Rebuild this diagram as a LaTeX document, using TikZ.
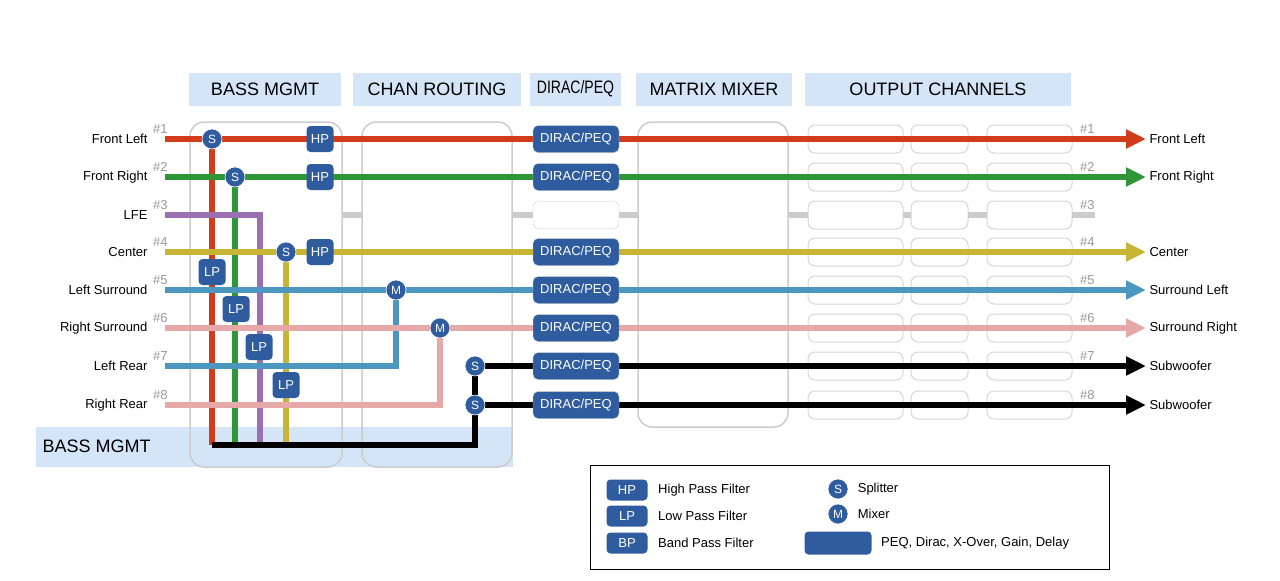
\documentclass[tikz,border=0pt]{standalone}
\usepackage{fontspec}
\usepackage{graphicx}
\setmainfont{Liberation Sans}
\usetikzlibrary{arrows.meta,positioning}
\definecolor{cRed}{HTML}{D33C1B}
\definecolor{cGreen}{HTML}{2E9637}
\definecolor{cPurple}{HTML}{9A70B0}
\definecolor{cYellow}{HTML}{C9B535}
\definecolor{cBlue}{HTML}{4C97BF}
\definecolor{cPink}{HTML}{E6A9A7}
\definecolor{cNode}{HTML}{2F5C9F}
\definecolor{cHead}{HTML}{D5E5F8}
\definecolor{cBox}{HTML}{CCCCCC}
\tikzset{
  sig/.style={line width=6pt},
  sigarrow/.style={sig, -{Triangle[length=20pt,width=18pt]}},
  circ/.style={circle, fill=cNode, draw=white, line width=0.6pt, inner sep=0pt, minimum size=20pt, text=white, font=\fontsize{12}{12}\selectfont},
  filt/.style={rectangle, rounded corners=4pt, fill=cNode, inner sep=0pt, minimum width=27pt, minimum height=26pt, text=white, font=\fontsize{13}{13}\selectfont},
  peq/.style={rectangle, rounded corners=5pt, fill=cNode, draw=cBox, inner sep=0pt, minimum width=86pt, minimum height=27pt, text=white, font=\fontsize{13}{13}\selectfont},
  head/.style={rectangle, fill=cHead, inner sep=0pt, minimum height=33pt, font=\fontsize{18}{18}\selectfont},
  stage/.style={draw=cBox, line width=1.5pt, rounded corners=14pt},
  slot/.style={draw=cBox!80, line width=1pt, rounded corners=7pt},
  lbl/.style={font=\fontsize{13}{13}\selectfont},
  num/.style={font=\fontsize{13}{13}\selectfont, text=black!40},
}
\begin{document}
\begin{tikzpicture}[x=1pt,y=-1pt]
  \useasboundingbox (0,0) rectangle (1280,581);

  % headers
  \node[head, minimum width=152pt] (hBass) at (265,89) {BASS MGMT};
  \node[head, minimum width=168pt] (hChan) at (437,89) {CHAN ROUTING};
  \node[head, minimum width=91pt] (hDirac) at (575.5,89) {\scalebox{0.78}[1]{DIRAC/PEQ}};
  \node[head, minimum width=156pt] (hMatrix) at (714,89) {MATRIX MIXER};
  \node[head, minimum width=266pt] (hOut) at (938,89) {OUTPUT CHANNELS};

  % bottom band
  \fill[cHead] (36,427) rectangle (513,467);
  \node[anchor=west, font=\fontsize{18}{18}\selectfont] (bandLbl) at (39,446) {BASS MGMT};

  % stage frames
  \draw[stage] (190,122) rectangle (342,467);
  \draw[stage] (362,122) rectangle (512,467);
  \draw[stage] (638,122) rectangle (788,427);
  \foreach \y in {139,177,215,252,290,328,366,405} {
    \draw[slot] (808,\y-14) rectangle (903,\y+14);
    \draw[slot] (911,\y-14) rectangle (968,\y+14);
    \draw[slot] (987,\y-14) rectangle (1072,\y+14);
  }

  % unused channel #3
  \foreach \a/\b in {342/362,512/533,619/638,788/808,903/911,968/987,1072/1095}
    \draw[cBox, line width=6pt] (\a,215) -- (\b,215);

  % inputs, outputs and labels
  \foreach \i/\y/\inl/\outl in {1/139/Front Left/Front Left, 2/177/Front Right/Front Right,
      3/215/LFE/, 4/252/Center/Center, 5/290/Left Surround/Surround Left,
      6/328/Right Surround/Surround Right, 7/366/Left Rear/Subwoofer, 8/405/Right Rear/Subwoofer} {
    \coordinate (in\i) at (165,\y);
    \coordinate (out\i) at (1146,\y);
    \node[lbl, anchor=east] (inLbl\i) at (151,\y) {\inl};
    \node[lbl, anchor=west] (outLbl\i) at (1146,\y) {\outl};
    \node[num, anchor=south west, inner sep=0pt] (inNum\i) at (153,\y-5) {\#\i};
    \node[num, anchor=south west, inner sep=0pt] (outNum\i) at (1080,\y-5) {\#\i};
  }

  % junction points
  \coordinate (s1) at (212,139);
  \coordinate (s2) at (235,177);
  \coordinate (s4) at (286,252);
  \coordinate (m5) at (396,290);
  \coordinate (m6) at (440,328);
  \coordinate (s7) at (475,366);
  \coordinate (s8) at (475,405);
  \coordinate (j3) at (260,215);
  \coordinate (b1) at (212,445);
  \coordinate (b2) at (235,445);
  \coordinate (b3) at (260,445);
  \coordinate (b4) at (286,445);
  \coordinate (bEnd) at (475,445);
  \coordinate (k7) at (396,366);
  \coordinate (k8) at (440,405);

  % signal paths
  \draw[sig, cRed] (s1) -- (b1);
  \draw[sig, cGreen] (s2) -- (b2);
  \draw[sig, cPurple] (in3) -- (j3) -- (b3);
  \draw[sig, cYellow] (s4) -- (b4);
  \draw[sig, cBlue] (in7) -- (k7) -- (m5);
  \draw[sig, cPink] (in8) -- (k8) -- (m6);
  \draw[sig, black] (b1) -- (bEnd) -- (s8) -- (s7);
  \draw[sigarrow, cRed] (in1) -- (out1);
  \draw[sigarrow, cGreen] (in2) -- (out2);
  \draw[sigarrow, cYellow] (in4) -- (out4);
  \draw[sigarrow, cBlue] (in5) -- (out5);
  \draw[sigarrow, cPink] (in6) -- (out6);
  \draw[sigarrow, black] (s7) -- (out7);
  \draw[sigarrow, black] (s8) -- (out8);

  % processing nodes
  \node[circ] (split1) at (s1) {S};
  \node[circ] (split2) at (s2) {S};
  \node[circ] (split4) at (s4) {S};
  \node[circ] (mix5) at (m5) {M};
  \node[circ] (mix6) at (m6) {M};
  \node[circ] (split7) at (s7) {S};
  \node[circ] (split8) at (s8) {S};
  \node[filt] (hp1) at (320,139) {HP};
  \node[filt] (hp2) at (320,177) {HP};
  \node[filt] (hp4) at (320,252) {HP};
  \node[filt] (lp1) at (212,272) {LP};
  \node[filt] (lp2) at (236,309) {LP};
  \node[filt] (lp3) at (259,347) {LP};
  \node[filt] (lp4) at (286,385) {LP};

  % dirac column
  \foreach \i/\y in {1/139,2/177,4/252,5/290,6/328,7/366,8/405}
    \node[peq] (peq\i) at (576,\y) {DIRAC/PEQ};
  \node[peq, fill=white] (peq3) at (576,215) {};

  % legend
  \draw[black, line width=1pt] (590,465) rectangle (1109,569);
  \node[filt, minimum width=41pt, minimum height=21pt] (legHP) at (627,490) {HP};
  \node[lbl, right=7pt of legHP] {High Pass Filter};
  \node[filt, minimum width=41pt, minimum height=21pt] (legLP) at (627,516) {LP};
  \node[lbl, right=7pt of legLP] {Low Pass Filter};
  \node[filt, minimum width=41pt, minimum height=21pt] (legBP) at (627,543) {BP};
  \node[lbl, right=7pt of legBP] {Band Pass Filter};
  \node[circ] (legS) at (838,489) {S};
  \node[lbl, right=6pt of legS] {Splitter};
  \node[circ] (legM) at (838,514) {M};
  \node[lbl, right=6pt of legM] {Mixer};
  \node[filt, minimum width=67pt, minimum height=23pt] (legPEQ) at (838,543) {};
  \node[lbl, right=6pt of legPEQ] {PEQ, Dirac, X-Over, Gain, Delay};
\end{tikzpicture}
\end{document}
